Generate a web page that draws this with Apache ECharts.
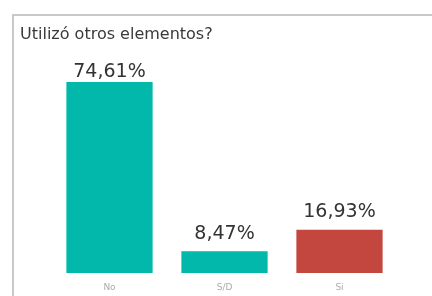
<!DOCTYPE html>
<html>
<head>
<meta charset="utf-8">
<script src="https://cdn.jsdelivr.net/npm/echarts@6/dist/echarts.min.js"></script>
<style>
  html, body { margin: 0; padding: 0; background: #fff; }
  #chart { width: 432px; height: 296px; }
</style>
</head>
<body>
<div id="chart"></div>
<script>
var categories = ['No', 'S/D', 'Si'];
var values = [74.61, 8.47, 16.93];
var barColors = ['#01B8AA', '#01B8AA', '#C4473F'];

var chart = echarts.init(document.getElementById('chart'));

chart.setOption({
    animation: false,
    title: {
        text: 'Utilizó otros elementos?',
        left: 15,
        top: 22,
        textStyle: {
            fontFamily: 'DejaVu Sans',
            fontSize: 16,
            fontWeight: 'normal',
            color: '#3a3a3a'
        }
    },
    graphic: [{
        type: 'polyline',
        shape: { points: [[13, 296], [13, 15], [432, 15]] },
        style: { stroke: '#b8b8b8', lineWidth: 1.5, fill: null }
    }],
    grid: { left: 52, right: 35, top: 82, bottom: 23 },
    xAxis: {
        type: 'category',
        data: categories,
        axisLine: { show: false },
        axisTick: { show: false },
        axisLabel: { color: '#aaa', fontSize: 9, margin: 10, fontFamily: 'DejaVu Sans' }
    },
    yAxis: {
        type: 'value',
        min: 0,
        max: 'dataMax',
        show: false
    },
    series: [{
        type: 'bar',
        barCategoryGap: '25%',
        data: values.map(function (v, i) {
            return {
                value: v,
                itemStyle: { color: barColors[i] },
                label: { distance: i === 0 ? 0 : 8 }
            };
        }),
        label: {
            show: true,
            position: 'top',
            fontFamily: 'DejaVu Sans',
            fontSize: 19,
            color: '#333',
            formatter: function (p) {
                return p.value.toFixed(2).replace('.', ',') + '%';
            }
        }
    }]
});
</script>
</body>
</html>
